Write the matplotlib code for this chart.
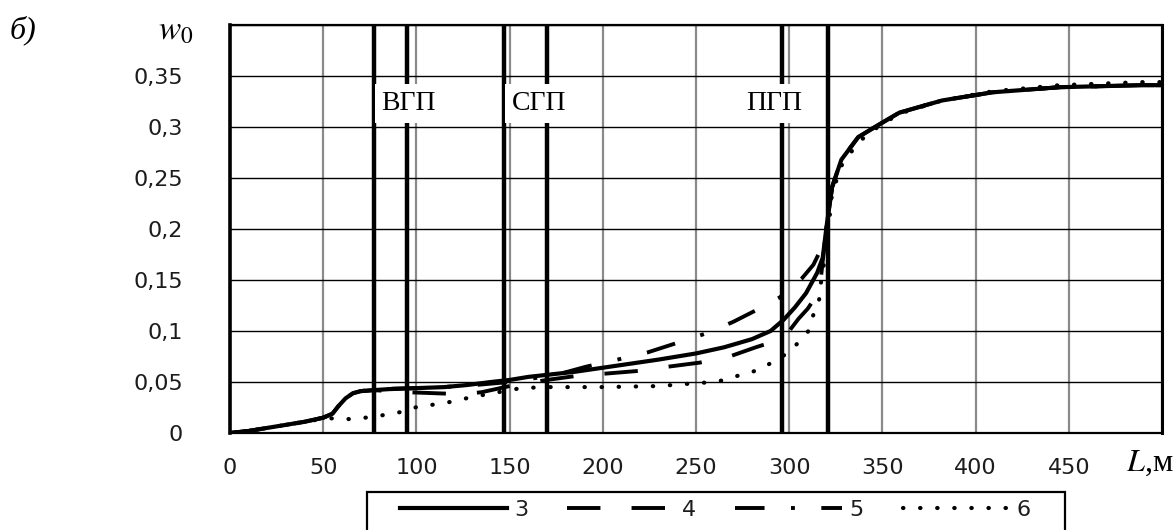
import numpy as np
import matplotlib
matplotlib.use("Agg")
import matplotlib.pyplot as plt
from matplotlib.patches import Rectangle

plt.rcParams['mathtext.fontset'] = 'stix'

# common start of curves 3-5 and common saturation part (L, m ; w0)
head_L = [0, 10, 20, 30, 40, 50, 55, 58, 62, 66, 70]
head_w = [0.0, 0.002, 0.005, 0.008, 0.011, 0.015, 0.019, 0.026, 0.034, 0.039, 0.041]
tail_L = [320, 323, 328, 337, 346, 359, 382, 409, 445, 489, 500]
tail_w = [0.202, 0.241, 0.268, 0.290, 0.300, 0.314, 0.326, 0.334, 0.339, 0.341, 0.341]

# curve 3 (solid)
mid3_L = [77, 85, 100, 115, 127, 140, 150, 160, 170, 185, 200, 215, 230, 250, 265,
          280, 290, 297, 303, 309, 315, 318]
mid3_w = [0.042, 0.043, 0.044, 0.045, 0.047, 0.050, 0.052, 0.055, 0.057, 0.060, 0.064,
          0.068, 0.072, 0.078, 0.084, 0.092, 0.100, 0.111, 0.123, 0.137, 0.157, 0.172]

# curve 4 (dashed)
mid4_L = [77, 95, 110, 125, 135, 150, 170, 190, 200, 220, 235, 252, 268, 282, 294,
          300, 305, 310, 314, 317]
mid4_w = [0.042, 0.040, 0.039, 0.038, 0.040, 0.046, 0.052, 0.057, 0.058, 0.061, 0.065,
          0.069, 0.075, 0.084, 0.091, 0.100, 0.112, 0.122, 0.133, 0.152]

# curve 5 (dash-dot)
mid5_L = [77, 100, 125, 150, 175, 191, 208, 224, 241, 256, 270, 284, 295, 307, 313, 317]
mid5_w = [0.043, 0.044, 0.046, 0.050, 0.057, 0.065, 0.072, 0.079, 0.089, 0.098, 0.109,
          0.122, 0.133, 0.152, 0.165, 0.180]

# curve 6 (dotted), full course
L6 = [0, 10, 20, 30, 40, 50, 57, 65, 75, 84, 93, 101, 110, 120, 129, 138, 147, 156,
      170, 200, 230, 251, 261, 270, 279, 287, 293, 300, 305, 310, 312, 314, 316, 317,
      319, 321, 323, 328, 337, 346, 359, 382, 409, 445, 489, 500]
w6 = [0.0, 0.002, 0.005, 0.008, 0.011, 0.014, 0.0145, 0.0135, 0.0155, 0.018, 0.021,
      0.026, 0.028, 0.031, 0.035, 0.038, 0.041, 0.044, 0.045, 0.045, 0.046, 0.049,
      0.050, 0.055, 0.059, 0.065, 0.072, 0.079, 0.089, 0.099, 0.111, 0.121, 0.130,
      0.147, 0.170, 0.200, 0.235, 0.262, 0.285, 0.298, 0.313, 0.326, 0.335, 0.341,
      0.344, 0.344]

# zone boundaries and zone names
bounds = [77, 95, 147, 170, 296, 321]
zone_names = ['ВГП', 'СГП', 'ПГП']
zone_x = [96, 166, 292]
zone_y = 0.323

x_ticks = [0, 50, 100, 150, 200, 250, 300, 350, 400, 450, 500]
x_labels = ['0', '50', '100', '150', '200', '250', '300', '350', '400', '450', '']
y_ticks = [0, 0.05, 0.1, 0.15, 0.2, 0.25, 0.3, 0.35, 0.4]
y_labels = ['0', '0,05', '0,1', '0,15', '0,2', '0,25', '0,3', '0,35', '']

W, H = 1176, 530
fig = plt.figure(figsize=(W / 100, H / 100), dpi=100)
ax = fig.add_axes([230 / W, 1 - 433 / H, 932 / W, 408 / H])

ax.set_xlim(0, 500)
ax.set_ylim(0, 0.4)
ax.set_xticks(x_ticks)
ax.set_xticklabels(x_labels)
ax.set_yticks(y_ticks)
ax.set_yticklabels(y_labels)
for lab in ax.get_xticklabels() + ax.get_yticklabels():
    lab.set_fontfamily('DejaVu Sans')
    lab.set_fontsize(16)
    lab.set_color('#1c1c1c')
ax.tick_params(axis='x', length=0, pad=18)
ax.tick_params(axis='y', length=0, pad=34)

ax.set_axisbelow(True)
ax.grid(axis='y', color='black', lw=1.0)
ax.grid(axis='x', color='#8a8a8a', lw=1.6)
for s in ax.spines.values():
    s.set_linewidth(1.6)
    s.set_color('black')
ax.spines['left'].set_linewidth(2.6)
ax.spines['right'].set_linewidth(2.2)

# zone boundary lines
for b in bounds:
    ax.axvline(b, color='black', lw=3.2, zorder=2)

for name, zx in zip(zone_names, zone_x):
    ax.text(zx, zone_y, name, ha='center', va='center', fontsize=20,
            family='Liberation Serif', zorder=3,
            bbox=dict(boxstyle='square,pad=0.25', fc='white', ec='none'))

L3 = head_L + mid3_L + tail_L
w3 = head_w + mid3_w + tail_w
L4 = head_L + mid4_L + tail_L
w4 = head_w + mid4_w + tail_w
L5 = head_L + mid5_L + tail_L
w5 = head_w + mid5_w + tail_w

ax.plot(L6, w6, color='black', lw=3.0, linestyle=(0, (0.1, 4.0)),
        dash_capstyle='round', zorder=4, label='6')
ax.plot(L5, w5, color='black', lw=2.8, linestyle=(0, (7.6, 6.8, 1.0, 6.8)),
        zorder=4, label='5')
ax.plot(L4, w4, color='black', lw=2.8, linestyle=(0, (8.6, 8.0)), zorder=4, label='4')
ax.plot(L3, w3, color='black', lw=3.0, zorder=5, label='3')

handles, labels = ax.get_legend_handles_labels()
order = [3, 2, 1, 0]
leg = ax.legend([handles[i] for i in order], [labels[i] for i in order],
                loc='center left', bbox_to_anchor=(400 / W, 1 - 510 / H),
                bbox_transform=fig.transFigure, ncol=4, frameon=False,
                handlelength=4.8, handletextpad=0.35, columnspacing=1.75,
                borderpad=0, borderaxespad=0,
                prop=dict(family='DejaVu Sans', size=16))
for t in leg.get_texts():
    t.set_color('#1c1c1c')
# legend frame, running past the lower edge of the figure
fig.add_artist(Rectangle((367 / W, 1 - 545 / H), (1065 - 367) / W, 53 / H,
                         transform=fig.transFigure, fill=False, ec='black', lw=1.6))

fig.text(193 / W, 1 - 31 / H, r'$w_0$', ha='right', va='center', fontsize=24,
         family='Liberation Serif')
fig.text(10 / W, 1 - 30 / H, 'б)', ha='left', va='center', fontsize=23,
         family='Liberation Serif', style='italic')
fig.text(1126 / W, 1 - 463 / H, r'$L$,м', ha='left', va='center', fontsize=23,
         family='Liberation Serif')

fig.savefig('out.png', dpi=100)
